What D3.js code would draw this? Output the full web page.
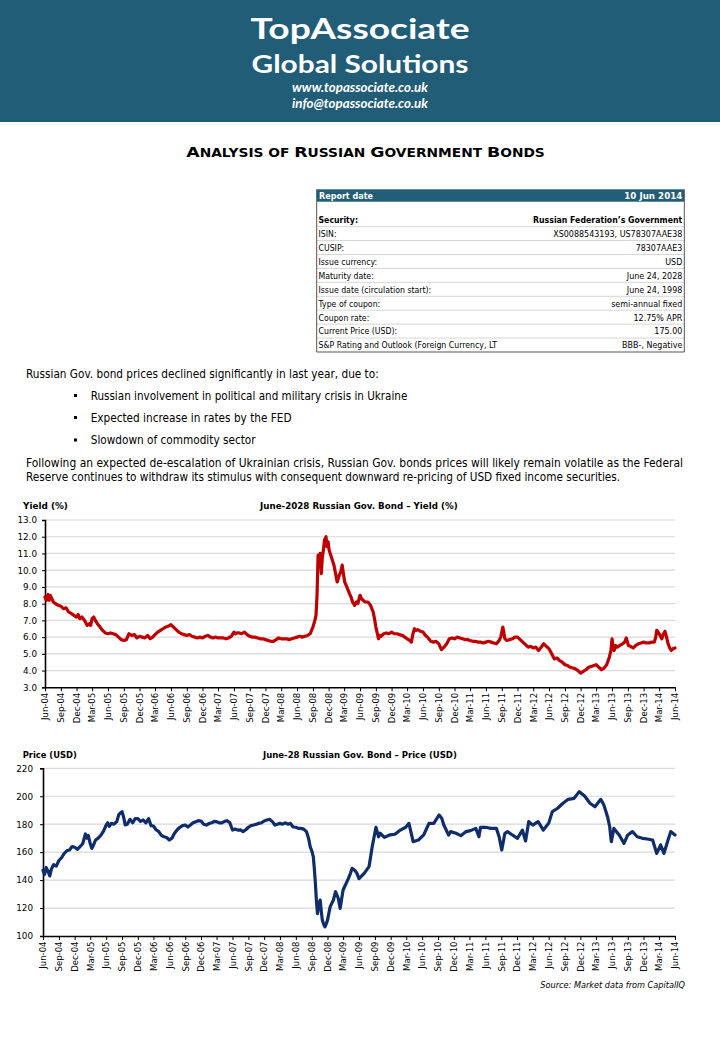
<!DOCTYPE html>
<html><head><meta charset="utf-8">
<script src="https://cdn.jsdelivr.net/npm/d3@7"></script>
<style>body{margin:0;background:#fff}svg{display:block}</style>
</head><body>
<svg id="page" width="720" height="1040"></svg>
<script>
// ---------------- DATA ----------------
// months elapsed since Jun-2004 (decimal) and yield (%)
const yieldMonth = [0,0.3,0.6,0.8,1,1.3,1.6,2,2.5,3,3.5,4,4.5,5,5.5,6,6.3,6.6,7,7.5,8,8.4,8.7,9,9.3,9.6,10,10.5,11,11.5,12,12.5,13,13.5,14,14.5,15,15.5,16,16.5,17,17.5,18,18.5,19,19.5,20,20.5,21,21.5,22,22.5,23,23.5,24,24.5,25,25.5,26,26.5,27,27.5,28,28.5,29,29.5,30,30.5,31,31.5,32,32.5,33,33.5,34,34.5,35,35.5,36,36.3,36.6,37,37.5,38,38.5,39,39.5,40,40.5,41,41.5,42,42.5,43,43.5,44,44.5,45,45.5,46,46.5,47,47.5,
48,48.5,49,49.5,50,50.5,51,51.3,51.6,51.8,52,52.2,52.4,52.6,52.8,53,53.2,53.5,53.7,53.9,54.1,54.5,55,55.3,55.6,56,56.3,56.6,56.8,57.1,57.5,58,58.3,58.6,59,59.3,59.6,60,60.3,60.6,61,61.5,62,62.5,62.8,63,63.3,63.5,63.8,64,64.5,65,65.5,66,66.5,67,67.5,68,68.5,69,69.5,69.8,70.1,70.4,70.7,71,71.5,72,72.5,73,73.5,74,74.5,75,75.5,76,76.5,77,77.5,78,78.5,79,79.5,80,80.5,81,81.5,82,82.5,83,83.5,84,84.5,85,85.5,86,86.5,86.8,87.2,87.6,88,88.5,89,89.5,90,90.5,91,91.5,92,92.5,93,93.5,94,94.5,95,95.5,96,96.5,97,97.5,98,98.5,99,99.5,100,100.5,101,101.5,102,102.5,103,103.5,104,104.5,105,105.5,106,106.5,107,107.5,107.8,108,108.2,108.4,108.7,109,109.5,110,110.4,110.7,111.1,111.5,112,112.5,113,113.5,114,114.5,115,115.5,116,116.3,116.5,116.8,117,117.5,117.8,118.1,118.4,118.7,119,119.3,119.6,120];
const yieldValue = [8.4,8.2,8.55,8.2,8.5,8.3,8.1,8.0,7.9,7.85,7.7,7.75,7.5,7.4,7.3,7.2,7.35,7.1,7.2,7.0,6.7,6.8,6.7,7.1,7.2,7.0,6.8,6.6,6.4,6.25,6.2,6.25,6.2,6.15,6.0,5.85,5.8,5.85,6.2,6.1,6.15,5.95,6.05,6.0,5.95,6.1,5.9,6.0,6.15,6.3,6.4,6.5,6.6,6.65,6.75,6.6,6.45,6.3,6.2,6.15,6.1,6.15,6.05,6.0,5.95,6.0,5.95,6.05,6.1,6.0,5.95,6.0,5.95,5.95,5.95,5.9,5.95,6.05,6.3,6.2,6.25,6.25,6.2,6.3,6.15,6.05,6.0,6.0,5.95,5.9,5.9,5.85,5.8,5.75,5.75,5.85,5.95,5.9,5.9,5.9,5.85,5.9,5.95,
6.0,6.05,6.0,6.05,6.1,6.2,6.6,6.9,7.3,8.5,10.9,10.2,11.0,9.8,10.8,11.2,11.8,12.0,11.4,11.7,11.2,10.8,10.3,9.8,9.3,9.7,9.9,10.3,9.9,9.3,9.0,8.6,8.4,8.1,7.9,8.1,8.0,8.5,8.3,8.2,8.1,8.1,7.9,7.5,7.0,6.6,6.2,5.9,6.1,6.05,6.2,6.25,6.2,6.3,6.2,6.2,6.15,6.1,6.0,5.9,5.8,5.7,6.2,6.5,6.4,6.45,6.35,6.3,6.1,5.95,5.75,5.7,5.75,5.6,5.25,5.4,5.6,5.9,5.95,5.9,6.0,5.95,5.9,5.85,5.85,5.8,5.75,5.75,5.7,5.7,5.65,5.7,5.75,5.7,5.65,5.6,5.8,6.0,6.6,5.9,5.8,5.85,5.9,6.0,6.0,5.85,5.7,5.55,5.4,5.45,5.35,5.4,5.2,5.4,5.6,5.45,5.3,5.0,4.7,4.75,4.6,4.5,4.35,4.3,4.2,4.15,4.1,4.0,3.85,3.95,4.05,4.2,4.25,4.3,4.35,4.2,4.05,4.15,4.35,4.8,5.2,5.9,5.4,5.2,5.5,5.4,5.5,5.6,5.7,5.95,5.5,5.45,5.35,5.5,5.6,5.65,5.7,5.65,5.65,5.7,5.7,6.0,6.4,6.3,6.2,5.9,6.2,6.35,6.0,5.6,5.35,5.2,5.3,5.35];

// months elapsed since Jun-2004 (decimal) and price (USD)
const priceMonth = [0,0.3,0.6,1,1.3,1.6,2,2.5,3,3.5,4,4.5,5,5.5,6,6.5,7,7.5,8,8.3,8.6,9,9.3,9.6,10,10.5,11,11.5,12,12.3,12.6,13,13.5,14,14.4,14.7,15,15.3,15.6,16,16.5,17,17.5,18,18.5,19,19.5,20,20.5,21,21.5,22,22.5,23,23.5,24,24.5,25,25.5,26,26.5,27,27.5,28,28.5,29,29.5,30,30.5,31,31.5,32,32.5,33,33.5,34,34.5,35,35.5,36,36.5,37,37.5,38,38.5,39,39.5,40,40.5,41,41.5,42,42.5,43,43.5,44,44.5,45,45.5,46,46.5,47,47.5,48,48.5,49,49.5,50,50.4,50.7,51,51.3,51.5,51.7,51.9,52.1,52.3,52.6,52.8,53,53.3,53.5,53.8,54,54.5,55.1,55.5,56,56.4,57,57.5,58,58.4,58.7,59.2,59.6,60,
61,61.9,62.5,63.2,63.7,64,64.8,65.8,66.8,67.8,68.9,69.5,70.3,71.3,72.3,73.3,74.2,75.2,75.7,76.1,77,77.4,78.4,79.3,80.3,81.2,82.2,82.8,83.1,84,85.1,86.1,86.6,87.1,87.7,88.2,89.1,90.1,91,91.6,92.2,93,94,95,96,96.7,97.7,98.7,99.7,100.8,101.8,102.8,103.8,104.8,105.9,106.5,107.2,107.6,107.9,108.4,109.4,110.3,111,111.9,112.8,113.8,114.7,115.7,116.5,117.3,117.9,118.5,119.2,120];
const priceValue = [147,144,149,146,143,148,151,150,154,156,159,161,161.5,164,163.5,162,164,166,173,170,172,166,162.7,165,168.7,170,172,175,179.4,181,178.5,180.6,180,181.8,187,188,189,185,179.5,180,183.5,181,184,184,182,183,181,184,179,178.7,176,174.7,172,171,170.5,168.7,170,173.5,176,177.8,179,179.4,178,179.4,181,181.8,182.5,182.3,180,179.4,180.5,181,182,181.8,181,181,182,182.5,181,175.8,176.5,175.8,176,174.7,176,177.8,179,179.4,180,180.6,181,182.3,183,183.5,182,179.4,180,180.6,180,181,180,180.6,178,177.8,177,177,176.5,174.7,170,164,161,156.8,148,137.7,125,116,122,125.7,118,111.4,108,106.6,109,111.4,121,125.7,131.7,127,119.8,132.9,137,141.2,145,148.4,147,145,141,
144.8,149.6,164,177.8,171,173.5,170.6,172.3,172.8,175.8,177.8,180.6,167.5,168.7,172.3,180.6,180.6,186.6,184.2,179.4,172.3,174.7,173.5,171.8,174.7,175.4,177,171,177.8,177.8,177,177,171,161.5,173.5,174.7,172.3,169.9,175.8,168,181.8,179.4,181.8,175.8,180.6,189,191.4,195,197.8,198.5,203.3,200.2,195,192.5,197.8,193.7,185.4,178.2,167.5,177,172.3,166.3,172.3,174.7,171,169.9,169.4,168.7,159.1,165.1,159.1,166.3,174.7,172.3];

const xTickLabels = ["Jun-04","Sep-04","Dec-04","Mar-05","Jun-05","Sep-05","Dec-05","Mar-06","Jun-06","Sep-06","Dec-06","Mar-07","Jun-07","Sep-07","Dec-07","Mar-08","Jun-08","Sep-08","Dec-08","Mar-09","Jun-09","Sep-09","Dec-09","Mar-10","Jun-10","Sep-10","Dec-10","Mar-11","Jun-11","Sep-11","Dec-11","Mar-12","Jun-12","Sep-12","Dec-12","Mar-13","Jun-13","Sep-13","Dec-13","Mar-14","Jun-14"];
const yieldTicks = [3,4,5,6,7,8,9,10,11,12,13];
const priceTicks = [100,120,140,160,180,200,220];

const tableLabels = ["Security:","ISIN:","CUSIP:","Issue currency:","Maturity date:","Issue date (circulation start):","Type of coupon:","Coupon rate:","Current Price (USD):","S&P Rating and Outlook (Foreign Currency, LT"];
const tableValues = ["Russian Federation\u2019s Government","XS0088543193, US78307AAE38","78307AAE3","USD","June 24, 2028","June 24, 1998","semi-annual fixed","12.75% APR","175.00","BBB-, Negative"];

const bullets = ["Russian involvement in political and military crisis in Ukraine","Expected increase in rates by the FED","Slowdown of commodity sector"];

// ---------------- DRAW ----------------
const svg = d3.select("#page");
const FONT = "'DejaVu Sans', Verdana, sans-serif";
const TEAL = "#215d77";

// text helper: draws at origin, then places with translate + horizontal scale
function txt(g, x, y, s, o = {}) {
  const t = g.append("text").attr("x", 0).attr("y", 0).text(s)
    .attr("font-family", o.family || FONT)
    .attr("font-size", o.size || 11)
    .attr("font-weight", o.bold ? "bold" : "normal")
    .attr("font-style", o.italic ? "italic" : "normal")
    .attr("fill", o.fill || "#000")
    .attr("text-anchor", o.anchor || "start");
  let sx = 1;
  if (o.w) sx = o.w / t.node().getComputedTextLength();
  else if (o.sq) sx = o.sq;
  t.attr("transform", `translate(${x},${y}) scale(${sx},1)`);
  return t;
}

// header band
svg.append("rect").attr("x", 0).attr("y", 0).attr("width", 720).attr("height", 122).attr("fill", TEAL);
txt(svg, 360, 38.5, "TopAssociate", {family: "Lato, 'Open Sans', sans-serif", size: 29, bold: true, fill: "#fff", anchor: "middle", w: 219});
txt(svg, 360, 72.5, "Global Solutions", {family: "Lato, 'Open Sans', sans-serif", size: 24, bold: true, fill: "#fff", anchor: "middle", w: 217});
txt(svg, 360, 91.5, "www.topassociate.co.uk", {family: "Lato, 'Open Sans', sans-serif", size: 12.5, bold: true, italic: true, fill: "#fff", anchor: "middle", w: 136});
txt(svg, 360, 107.5, "info@topassociate.co.uk", {family: "Lato, 'Open Sans', sans-serif", size: 12.5, bold: true, italic: true, fill: "#fff", anchor: "middle", w: 136});

// small caps title
{
  const t = svg.append("text").attr("x", 0).attr("y", 0).attr("text-anchor", "middle")
    .attr("font-family", FONT).attr("font-weight", "bold").attr("fill", "#000");
  const parts = [["A",14.5],["NALYSIS OF ",11.5],["R",14.5],["USSIAN ",11.5],["G",14.5],["OVERNMENT ",11.5],["B",14.5],["ONDS",11.5]];
  parts.forEach(p => t.append("tspan").attr("font-size", p[1]).text(p[0]));
  const L = t.node().getComputedTextLength();
  t.attr("transform", `translate(365.5,157) scale(${359 / L},1)`);
}

// table
{
  const g = svg.append("g");
  const x0 = 316.7, x1 = 684.3, top = 189.3, rowTop = 212.7, rh = 13.93;
  g.append("rect").attr("x", x0).attr("y", top).attr("width", x1 - x0).attr("height", 12.4).attr("fill", TEAL);
  txt(g, 319, 199.3, "Report date", {size: 9.3, bold: true, fill: "#fff", w: 54});
  txt(g, 682.3, 199.3, "10 Jun 2014", {size: 9.3, bold: true, fill: "#fff", anchor: "end", w: 58});
  tableLabels.forEach((lab, i) => {
    const y = rowTop + i * rh;
    g.append("line").attr("x1", x0).attr("x2", x1).attr("y1", y + rh).attr("y2", y + rh)
      .attr("stroke", i === tableLabels.length - 1 ? "#555" : "#d6d6d6").attr("stroke-width", 1);
    txt(g, 318.5, y + 10.3, lab, {size: 9.3, bold: i === 0, sq: 0.84});
    txt(g, 682.3, y + 10.3, tableValues[i], {size: 9.3, bold: i === 0, anchor: "end", sq: i === 0 ? 0.84 : 0.86});
  });
  const bottom = rowTop + tableLabels.length * rh;
  g.append("line").attr("x1", x0).attr("x2", x0).attr("y1", top).attr("y2", bottom).attr("stroke", "#555").attr("stroke-width", 1);
  g.append("line").attr("x1", x1).attr("x2", x1).attr("y1", top).attr("y2", bottom).attr("stroke", "#555").attr("stroke-width", 1);
}

// body text
txt(svg, 26, 377.5, "Russian Gov. bond prices declined significantly in last year, due to:", {size: 11.5, w: 353});
const bW = [317, 201, 165];
bullets.forEach((b, i) => {
  const y = [399.5, 421.5, 444][i];
  svg.append("rect").attr("x", 74).attr("y", y - 5.5).attr("width", 3).attr("height", 3).attr("fill", "#000");
  txt(svg, 90.7, y, b, {size: 11.5, w: bW[i]});
});
txt(svg, 26, 466.7, "Following an expected de-escalation of Ukrainian crisis, Russian Gov. bonds prices will likely remain volatile as the Federal", {size: 11.5, w: 658});
txt(svg, 26, 480.7, "Reserve continues to withdraw its stimulus with consequent downward re-pricing of USD fixed income securities.", {size: 11.5, w: 595});

// ---------------- CHARTS ----------------
const base = new Date(2004, 5, 1);
function mDate(m) {
  const k = Math.floor(m);
  const a = d3.timeMonth.offset(base, k), b = d3.timeMonth.offset(base, k + 1);
  return new Date(+a + (m - k) * (b - a));
}
const parseTick = d3.timeParse("%b-%y");
const tickDates = xTickLabels.map(parseTick);

function chart(opt) {
  const g = svg.append("g");
  const x = d3.scaleTime().domain([tickDates[0], tickDates[tickDates.length - 1]]).range([opt.left, opt.right]);
  const y = d3.scaleLinear().domain(opt.domain).range([opt.bottom, opt.top]);
  // grid
  g.append("g").selectAll("line").data(opt.ticks.slice(1)).join("line")
    .attr("x1", opt.left).attr("x2", opt.right).attr("y1", d => y(d)).attr("y2", d => y(d))
    .attr("stroke", "#d9d9d9").attr("stroke-width", 1.2);
  // y axis
  const ya = g.append("g").attr("transform", `translate(${opt.left},0)`)
    .call(d3.axisLeft(y).tickValues(opt.ticks).tickFormat(opt.fmt).tickSize(3).tickPadding(opt.ypad));
  ya.select(".domain").attr("stroke", "#000").attr("stroke-width", 1.6);
  ya.selectAll(".tick line").attr("stroke", "#000");
  ya.selectAll(".tick text").attr("font-family", FONT).attr("font-size", 8.8).attr("fill", "#000");
  // x axis
  const xa = g.append("g").attr("transform", `translate(0,${opt.bottom})`)
    .call(d3.axisBottom(x).tickValues(tickDates).tickFormat((d, i) => xTickLabels[i]).tickSize(4).tickSizeOuter(0));
  xa.select(".domain").attr("stroke", "#000").attr("stroke-width", 1.6);
  xa.selectAll(".tick line").attr("stroke", "#000");
  xa.selectAll(".tick text").attr("font-family", FONT).attr("font-size", 8.5).attr("fill", "#000")
    .attr("text-anchor", "end").attr("transform", "rotate(-90)")
    .attr("x", -5.5).attr("y", 0).attr("dy", "0.33em");
  // line
  const pts = opt.months.map((m, i) => [mDate(m), opt.values[i]]);
  g.append("path").datum(pts)
    .attr("d", d3.line().x(d => x(d[0])).y(d => y(d[1])))
    .attr("fill", "none").attr("stroke", opt.color).attr("stroke-width", 3.2)
    .attr("stroke-linejoin", "round").attr("stroke-linecap", "round");
  // titles
  txt(g, opt.lx, opt.ty, opt.ltitle, {size: 9, bold: true, w: opt.lw});
  txt(g, opt.cx, opt.ty, opt.ctitle, {size: 9, bold: true, w: opt.cw});
}

chart({
  left: 45, right: 675, top: 520, bottom: 687.3, domain: [3, 13], ticks: yieldTicks,
  fmt: d3.format(".1f"), ypad: 5, months: yieldMonth, values: yieldValue, color: "#c00000",
  lx: 23, ltitle: "Yield (%)", lw: 45, cx: 260, ctitle: "June-2028 Russian Gov. Bond \u2013 Yield (%)", cw: 198, ty: 509
});
chart({
  left: 43, right: 675, top: 768.3, bottom: 936, domain: [100, 220], ticks: priceTicks,
  fmt: d3.format("d"), ypad: 7, months: priceMonth, values: priceValue, color: "#0f2c6b",
  lx: 22.7, ltitle: "Price (USD)", lw: 54, cx: 263, ctitle: "June-28 Russian Gov. Bond \u2013 Price (USD)", cw: 194, ty: 757.5
});

txt(svg, 685, 988, "Source: Market data from CapitalIQ", {size: 9, italic: true, anchor: "end", w: 145});
</script>
</body></html>
